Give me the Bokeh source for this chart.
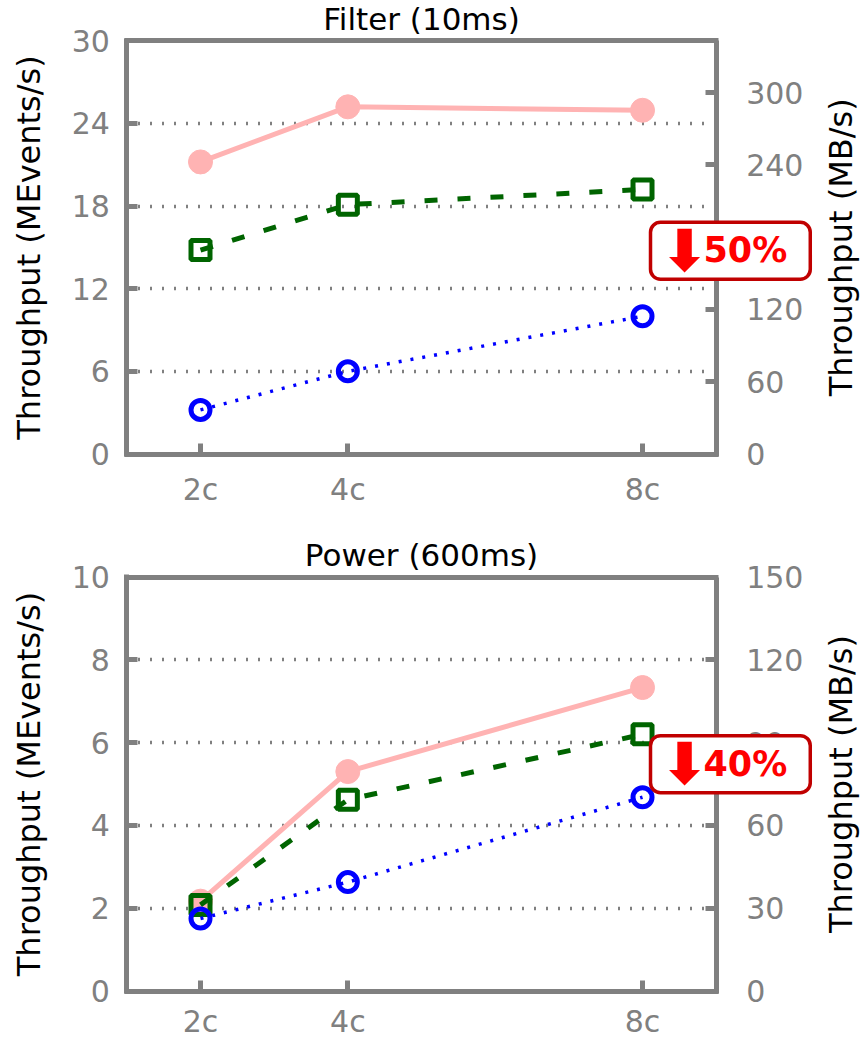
import math
from bokeh.plotting import figure
from bokeh.models import Range1d, LinearAxis, FixedTicker, Label
from bokeh.layouts import column
from bokeh.embed import file_html
from bokeh.resources import INLINE

# ---------------- data ----------------
cores = [2, 4, 8]
core_labels = ["2c", "4c", "8c"]

filter_pink = [21.2, 25.2, 24.95]
filter_green = [14.8, 18.1, 19.2]
filter_blue = [3.2, 6.0, 10.0]

power_pink = [2.17, 5.3, 7.33]
power_green = [2.08, 4.62, 6.2]
power_blue = [1.75, 2.63, 4.68]

filter_left_ticks = [0, 6, 12, 18, 24, 30]
filter_right_ticks = [0, 60, 120, 180, 240, 300]
filter_right_max = 343
power_left_ticks = [0, 2, 4, 6, 8, 10]
power_right_ticks = [0, 30, 60, 90, 120, 150]
power_right_max = 150

# ---------------- style / layout ----------------
FONT = "DejaVu Sans"
GRAY = "#808080"
PINK = "#ffb3b3"
GREEN = "#006400"
BLUE = "#0000ff"
BADGE_RED = "#ff0000"
BADGE_EDGE = "#c00000"

W = 862
PX_PER_X = 73.67          # pixels per core unit
PX_AT_2 = 200.0           # pixel of the "2c" tick
BOX_X0, BOX_X1 = 1.0, 9.0  # visible plotting box in x units


def xv(px):
    return 2 + (px - PX_AT_2) / PX_PER_X


def style_ticks(ax, size="30px"):
    ax.major_tick_in = 11
    ax.major_tick_out = 0
    ax.major_tick_line_color = GRAY
    ax.major_tick_line_width = 5
    ax.minor_tick_line_color = None
    ax.major_label_text_font = FONT
    ax.major_label_text_font_size = size
    ax.major_label_text_color = GRAY
    ax.axis_line_color = GRAY
    ax.axis_line_width = 5


def make_panel(title, pink, green, blue, lticks, rticks, rmax,
               badge, badge_y, height, box_top, box_bottom, x_standoff):
    ymax = lticks[-1]
    ppy = (box_bottom - box_top) / ymax            # pixels per y unit
    y_lo = -(height - box_bottom) / ppy
    y_hi = ymax + box_top / ppy
    k = rmax / ymax
    hx = 2.5 / PX_PER_X                            # half border width
    hy = 2.5 / ppy

    p = figure(width=W, height=height, x_range=Range1d(xv(0), xv(W)),
               y_range=Range1d(y_lo, y_hi), title=None,
               output_backend="svg", toolbar_location=None,
               min_border=0, min_border_left=0, min_border_right=0,
               min_border_top=0, min_border_bottom=0)
    p.outline_line_color = None
    p.background_fill_color = "white"
    p.border_fill_color = "white"
    p.extra_y_ranges = {"mb": Range1d(y_lo * k, y_hi * k)}

    # bottom x axis
    xa = p.xaxis[0]
    xa.fixed_location = 0
    xa.ticker = FixedTicker(ticks=cores)
    xa.major_label_overrides = {c: l for c, l in zip(cores, core_labels)}
    xa.bounds = (BOX_X0 - hx, BOX_X1 + hx)
    style_ticks(xa)
    xa.major_label_standoff = x_standoff

    # top border
    ta = LinearAxis(fixed_location=ymax, bounds=(BOX_X0 - hx, BOX_X1 + hx),
                    ticker=FixedTicker(ticks=[]))
    style_ticks(ta)
    ta.major_tick_line_color = None
    ta.major_label_text_font_size = "0px"
    p.add_layout(ta, "above")

    # left axis
    ya = p.yaxis[0]
    ya.fixed_location = BOX_X0
    ya.ticker = FixedTicker(ticks=lticks)
    ya.bounds = (0 - hy, ymax + hy)
    style_ticks(ya)
    ya.major_label_standoff = 17
    ya.axis_label = "Throughput (MEvents/s)"
    ya.axis_label_text_font = FONT
    ya.axis_label_text_font_size = "32px"
    ya.axis_label_text_font_style = "normal"
    ya.axis_label_text_color = "black"
    ya.axis_label_standoff = 20

    # right axis at the right edge of the box
    ra = LinearAxis(y_range_name="mb", ticker=FixedTicker(ticks=rticks),
                    fixed_location=BOX_X1, bounds=(0 - hy * k, rmax))
    style_ticks(ra)
    ra.major_label_standoff = 30
    p.add_layout(ra, "right")
    rlab = Label(x=xv(840), y=ymax / 2, text="Throughput (MB/s)",
                 angle=math.pi / 2, text_align="center",
                 text_baseline="middle", text_font=FONT,
                 text_font_size="32px", text_color="black")
    p.add_layout(rlab)

    # grid
    p.xgrid.grid_line_color = None
    g = p.ygrid[0]
    g.ticker = FixedTicker(ticks=lticks)
    g.grid_line_color = "black"
    g.grid_line_width = 3.5
    g.grid_line_dash = "1 11"
    g.cross_bounds = (BOX_X0, BOX_X1)

    # series
    p.line(cores, pink, line_color=PINK, line_width=5)
    p.scatter(cores, pink, marker="circle", size=24, fill_color=PINK,
              line_color=PINK)
    p.scatter(cores, green, marker="square", size=19, fill_color=None,
              line_color=GREEN, line_width=5)
    p.line(cores, green, line_color=GREEN, line_width=5, line_dash="13 20")
    p.scatter(cores, blue, marker="circle", size=19, fill_color=None,
              line_color=BLUE, line_width=5)
    p.line(cores, blue, line_color=BLUE, line_width=3.5, line_dash="3 9")

    # title
    t = Label(x=(BOX_X0 + BOX_X1) / 2, y=ymax, y_offset=4, text=title,
              text_align="center", text_baseline="bottom", text_font=FONT,
              text_font_size="31px", text_color="black")
    p.add_layout(t)

    # badge  (padding order: left, right, top, bottom)
    b = Label(x=xv(650), y=badge_y, text=badge, text_align="left",
              text_baseline="middle", text_font=FONT, text_font_size="35px",
              text_font_style="bold", text_color=BADGE_RED,
              background_fill_color="white", border_line_color=BADGE_EDGE,
              border_line_width=3.5, padding=(53, 23, 8, 9), border_radius=10,
              level="overlay")
    p.add_layout(b)
    arrow = Label(x=xv(684), y=badge_y, text="\u2b07", text_align="center",
                  text_baseline="middle", text_font=FONT,
                  text_font_size="58px", text_font_style="bold",
                  text_color=BADGE_RED, level="overlay")
    p.add_layout(arrow)
    return p


top = make_panel("Filter (10ms)", filter_pink, filter_green, filter_blue,
                 filter_left_ticks, filter_right_ticks, filter_right_max,
                 "50%", 14.75, 520, 40.2, 453.5, 18)
bot = make_panel("Power (600ms)", power_pink, power_green, power_blue,
                 power_left_ticks, power_right_ticks, power_right_max,
                 "40%", 5.48, 522, 56.5, 470.5, 13)

layout = column(top, bot, spacing=0)
open("out.html", "w").write(file_html(layout, INLINE))
